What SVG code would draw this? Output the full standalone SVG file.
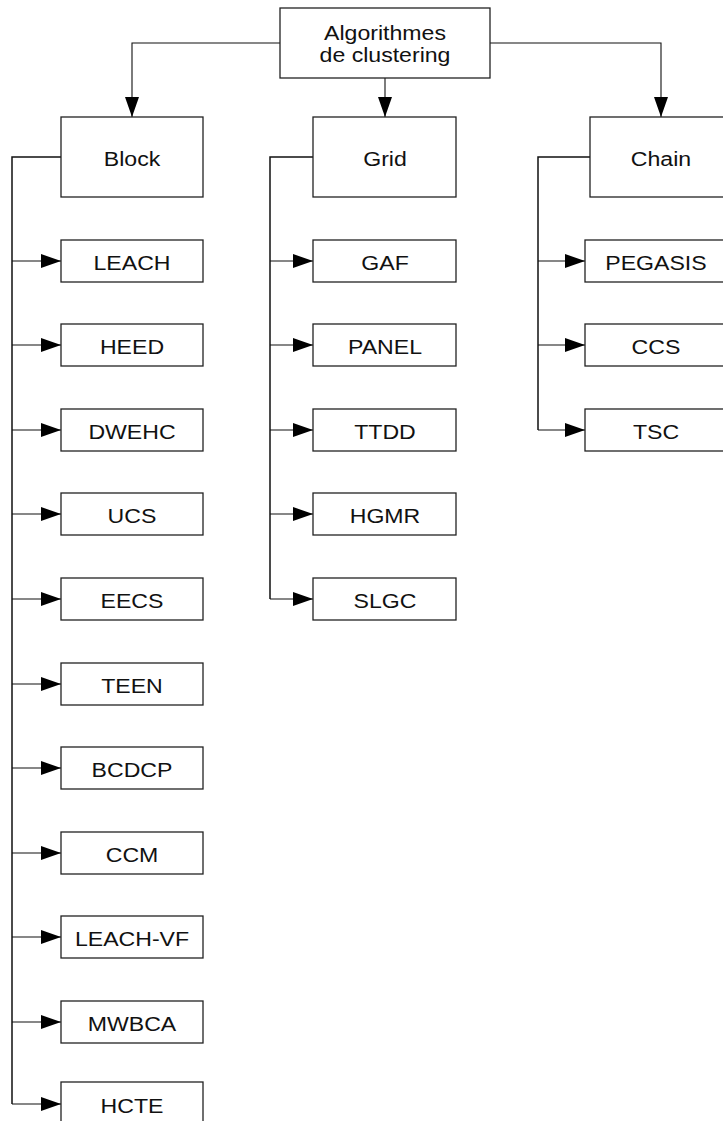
<svg xmlns="http://www.w3.org/2000/svg" width="723" height="1121" viewBox="0 0 723 1121">
<defs>
<marker id="ah" viewBox="0 0 20 14" refX="20" refY="7" markerWidth="20" markerHeight="14" markerUnits="userSpaceOnUse" orient="auto">
<path d="M0,0 L20,7 L0,14 Z" fill="#000"/>
</marker>
<style>
.box{fill:#fff;stroke:#222;stroke-width:1.3}
.t{font-family:"Liberation Sans",Arial,sans-serif;font-size:21px;fill:#111;text-anchor:middle}
.c{fill:none;stroke:#111;stroke-width:1.1}
.trunk{fill:none;stroke:#111;stroke-width:1.5}
</style>
</defs>
<rect width="723" height="1121" fill="#fff"/>
<g id="connectors">
<path class="c" d="M280,43 H132 V117" marker-end="url(#ah)"/>
<path class="c" d="M385,78 V117" marker-end="url(#ah)"/>
<path class="c" d="M490,43 H661 V117" marker-end="url(#ah)"/>
<path class="trunk" d="M61,157 H12 V1104"/>
<path class="c" d="M12,261 H61" marker-end="url(#ah)"/>
<path class="c" d="M12,345 H61" marker-end="url(#ah)"/>
<path class="c" d="M12,430 H61" marker-end="url(#ah)"/>
<path class="c" d="M12,514 H61" marker-end="url(#ah)"/>
<path class="c" d="M12,599 H61" marker-end="url(#ah)"/>
<path class="c" d="M12,684 H61" marker-end="url(#ah)"/>
<path class="c" d="M12,768 H61" marker-end="url(#ah)"/>
<path class="c" d="M12,853 H61" marker-end="url(#ah)"/>
<path class="c" d="M12,937 H61" marker-end="url(#ah)"/>
<path class="c" d="M12,1022 H61" marker-end="url(#ah)"/>
<path class="c" d="M12,1104 H61" marker-end="url(#ah)"/>
<path class="trunk" d="M313,157 H270 V599"/>
<path class="c" d="M270,261 H313" marker-end="url(#ah)"/>
<path class="c" d="M270,345 H313" marker-end="url(#ah)"/>
<path class="c" d="M270,430 H313" marker-end="url(#ah)"/>
<path class="c" d="M270,514 H313" marker-end="url(#ah)"/>
<path class="c" d="M270,599 H313" marker-end="url(#ah)"/>
<path class="trunk" d="M590,157 H538 V430"/>
<path class="c" d="M538,261 H585" marker-end="url(#ah)"/>
<path class="c" d="M538,345 H585" marker-end="url(#ah)"/>
<path class="c" d="M538,430 H585" marker-end="url(#ah)"/>
</g>
<g id="root"><rect class="box" x="280" y="8" width="210" height="70"/><text class="t" transform="translate(385 40) scale(1.1 1)">Algorithmes</text><text class="t" transform="translate(385 62) scale(1.1 1)">de clustering</text></g>
<g id="block"><rect class="box" x="61" y="117" width="142" height="80"/><text class="t" transform="translate(132 165.5) scale(1.1 1)">Block</text></g>
<g id="grid"><rect class="box" x="313" y="117" width="143" height="80"/><text class="t" transform="translate(385 165.5) scale(1.1 1)">Grid</text></g>
<g id="chain"><rect class="box" x="590" y="117" width="140" height="80"/><text class="t" transform="translate(661 165.5) scale(1.1 1)">Chain</text></g>
<g id="leach"><rect class="box" x="61" y="240" width="142" height="42"/><text class="t" transform="translate(132 269.5) scale(1.1 1)">LEACH</text></g>
<g id="heed"><rect class="box" x="61" y="324" width="142" height="42"/><text class="t" transform="translate(132 353.5) scale(1.1 1)">HEED</text></g>
<g id="dwehc"><rect class="box" x="61" y="409" width="142" height="42"/><text class="t" transform="translate(132 438.5) scale(1.1 1)">DWEHC</text></g>
<g id="ucs"><rect class="box" x="61" y="493" width="142" height="42"/><text class="t" transform="translate(132 522.5) scale(1.1 1)">UCS</text></g>
<g id="eecs"><rect class="box" x="61" y="578" width="142" height="42"/><text class="t" transform="translate(132 607.5) scale(1.1 1)">EECS</text></g>
<g id="teen"><rect class="box" x="61" y="663" width="142" height="42"/><text class="t" transform="translate(132 692.5) scale(1.1 1)">TEEN</text></g>
<g id="bcdcp"><rect class="box" x="61" y="747" width="142" height="42"/><text class="t" transform="translate(132 776.5) scale(1.1 1)">BCDCP</text></g>
<g id="ccm"><rect class="box" x="61" y="832" width="142" height="42"/><text class="t" transform="translate(132 861.5) scale(1.1 1)">CCM</text></g>
<g id="leachvf"><rect class="box" x="61" y="916" width="142" height="42"/><text class="t" transform="translate(132 945.5) scale(1.1 1)">LEACH-VF</text></g>
<g id="mwbca"><rect class="box" x="61" y="1001" width="142" height="42"/><text class="t" transform="translate(132 1030.5) scale(1.1 1)">MWBCA</text></g>
<g id="hcte"><rect class="box" x="61" y="1082" width="142" height="50"/><text class="t" transform="translate(132 1112.5) scale(1.1 1)">HCTE</text></g>
<g id="gaf"><rect class="box" x="313" y="240" width="143" height="42"/><text class="t" transform="translate(385 269.5) scale(1.1 1)">GAF</text></g>
<g id="panel"><rect class="box" x="313" y="324" width="143" height="42"/><text class="t" transform="translate(385 353.5) scale(1.1 1)">PANEL</text></g>
<g id="ttdd"><rect class="box" x="313" y="409" width="143" height="42"/><text class="t" transform="translate(385 438.5) scale(1.1 1)">TTDD</text></g>
<g id="hgmr"><rect class="box" x="313" y="493" width="143" height="42"/><text class="t" transform="translate(385 522.5) scale(1.1 1)">HGMR</text></g>
<g id="slgc"><rect class="box" x="313" y="578" width="143" height="42"/><text class="t" transform="translate(385 607.5) scale(1.1 1)">SLGC</text></g>
<g id="pegasis"><rect class="box" x="585" y="240" width="145" height="42"/><text class="t" transform="translate(656 269.5) scale(1.1 1)">PEGASIS</text></g>
<g id="ccs"><rect class="box" x="585" y="324" width="145" height="42"/><text class="t" transform="translate(656 353.5) scale(1.1 1)">CCS</text></g>
<g id="tsc"><rect class="box" x="585" y="409" width="145" height="42"/><text class="t" transform="translate(656 438.5) scale(1.1 1)">TSC</text></g>
</svg>
